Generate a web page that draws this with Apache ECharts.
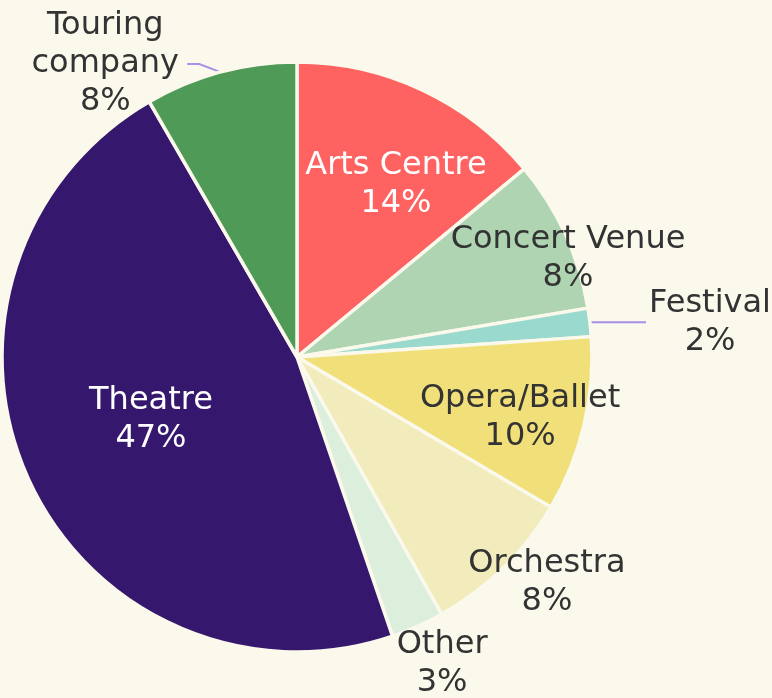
<!DOCTYPE html>
<html>
<head>
<meta charset="utf-8">
<script src="https://cdn.jsdelivr.net/npm/echarts@6/dist/echarts.min.js"></script>
<style>
  html, body { margin: 0; padding: 0; background: #fbf8ec; }
  #main { width: 772px; height: 698px; }
</style>
</head>
<body>
<div id="main"></div>
<script>
// data (clockwise from 12 o'clock)
const categories = ['Arts Centre', 'Concert Venue', 'Festival', 'Opera/Ballet', 'Orchestra', 'Other', 'Theatre', 'Touring company'];
const shares = [14.0, 8.35, 1.55, 9.6, 8.35, 2.9, 46.9, 8.35];
const colors = ['#ff6361', '#afd4b2', '#9ad9cd', '#f1e07a', '#f2ebbc', '#dcefdd', '#35186e', '#4f9a57'];
const labelText = ['Arts Centre', 'Concert Venue', 'Festival', 'Opera/Ballet', 'Orchestra', 'Other', 'Theatre', 'Touring\ncompany'];

const CX = 297, CY = 357, R = 295;
const BG = '#fbf8ec';

// where each label sits: [angle clockwise from top in deg, distance as fraction of radius]
const labelSpot = {
    'Arts Centre': [29.9, 0.673],
    'Concert Venue': [70.1, 0.977],
    'Festival': [85.2, 1.405],
    'Opera/Ballet': [105.3, 0.784],
    'Orchestra': [132.1, 1.142],
    'Other': [154.7, 1.151],
    'Theatre': [246.7, 0.539],
    'Touring company': [326.8, 1.187]
};
const outsideOnes = ['Festival', 'Other', 'Touring company'];
const whiteText = ['Arts Centre', 'Theatre'];

const chart = echarts.init(document.getElementById('main'));

const pieData = categories.map((name, i) => {
    const outside = outsideOnes.indexOf(name) >= 0;
    const item = {
        name: name,
        value: shares[i],
        itemStyle: { color: colors[i] },
        label: {
            position: outside ? 'outside' : 'inside',
            color: whiteText.indexOf(name) >= 0 ? '#ffffff' : '#333333'
        },
        labelLine: { show: outside && name !== 'Other' }
    };
    if (name === 'Touring company') item.label.width = 164, item.label.padding = [0, 0, 18, 0];
    if (name === 'Festival') item.label.width = 128, item.label.padding = [20, 0, 0, 0];
    if (name === 'Other') item.label.width = 120;
    return item;
});

const option = {
    backgroundColor: BG,
    animation: false,
    series: [
        {
            type: 'pie',
            center: [CX, CY],
            radius: R,
            startAngle: 90,
            clockwise: true,
            avoidLabelOverlap: false,
            silent: true,
            itemStyle: { borderColor: BG, borderWidth: 3.5 },
            label: {
                show: true,
                position: 'outside',
                fontFamily: 'DejaVu Sans',
                fontSize: 32,
                lineHeight: 38,
                align: 'center',
                formatter: p => labelText[p.dataIndex] + '\n' + Math.round(p.percent) + '%'
            },
            labelLine: {
                length: 4,
                length2: 12,
                lineStyle: { color: '#a88fe8', width: 2 }
            },
            labelLayout: function (p) {
                const spot = labelSpot[categories[p.dataIndex]];
                const a = spot[0] * Math.PI / 180;
                return {
                    x: CX + spot[1] * R * Math.sin(a),
                    y: CY - spot[1] * R * Math.cos(a),
                    align: 'center',
                    verticalAlign: 'middle'
                };
            },
            data: pieData
        }
    ]
};

chart.setOption(option);
</script>
</body>
</html>
